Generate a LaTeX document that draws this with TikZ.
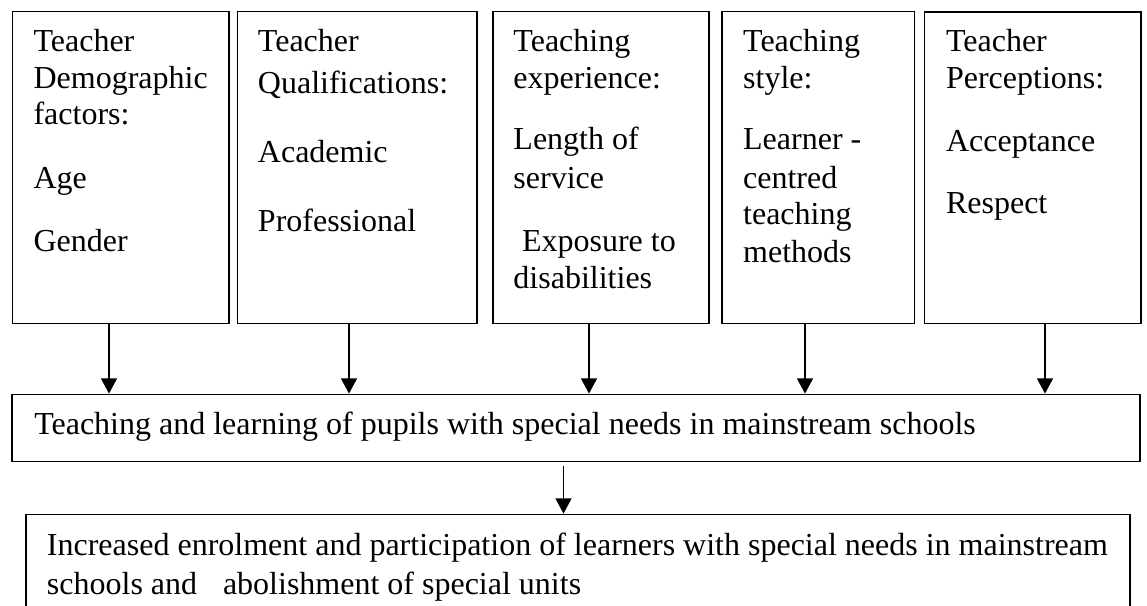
\documentclass[tikz,border=0pt]{standalone}
\usepackage{fontspec}
\setmainfont{Liberation Serif}
\usetikzlibrary{fit,arrows.meta}
\tikzset{
  box/.style={draw, line width=1pt, inner sep=0pt, rectangle},
  arr/.style={line width=1.25pt, -{Triangle[length=11.5pt,width=12pt]}},
  txt/.style={anchor=base west, inner sep=0pt, font=\fontsize{24pt}{27.375pt}\selectfont},
}
\newcommand{\boxtext}[2]{\begin{minipage}[t]{#1}\raggedright\fontsize{24pt}{27.375pt}\selectfont #2\end{minipage}}
\begin{document}
\begin{tikzpicture}[x=0.75pt,y=-0.75pt]
\useasboundingbox (0,0) rectangle (1147,606);
\clip (0,0) rectangle (1147,606);
% top boxes
\node[box, fit={(12.7,11.7) (229,323.3)}] (b1) {};
\node[box, fit={(237.5,11.7) (477,323.3)}] (b2) {};
\node[box, fit={(493,11.7) (709,323.3)}] (b3) {};
\node[box, fit={(722,11.7) (914.5,323.3)}] (b4) {};
\node[box, fit={(924.5,12) (1141,323.3)}] (b5) {};
% middle and bottom boxes
\node[box, fit={(12,394.3) (1140,461.7)}] (mid) {};
\node[box, fit={(26,514.3) (1130,640)}] (bot) {};
% texts
\node[txt] (t1) at (33.3,52) {\boxtext{300pt}{Teacher\\ Demographic\\ factors:\\[19.9pt] Age\\[20.6pt] Gender}};
\node[txt] (t2) at (257.7,51.7) {\boxtext{300pt}{Teacher\\[4.35pt] Qualifications:\\[24.2pt] Academic\\[24.4pt] Professional}};
\node[txt] (t3) at (513.2,51.7) {\boxtext{300pt}{Teaching\\ experience:\\[18.9pt] Length of\\[1.35pt] service\\[20.2pt] \hspace*{6.4pt}Exposure to\\ disabilities}};
\node[txt] (t4) at (742.9,51.7) {\boxtext{300pt}{Teaching\\ style:\\[18.9pt] Learner -\\[1.35pt] centred\\ teaching\\[1.1pt] methods}};
\node[txt] (t5) at (945.8,51.7) {\boxtext{300pt}{Teacher\\ Perceptions:\\[20.2pt] Acceptance\\[18.8pt] Respect}};
\node[txt] (tm) at (34,434) {Teaching and learning of pupils with special needs in mainstream schools};
\node[txt] (tb) at (46.7,555) {\boxtext{1000pt}{Increased enrolment and participation of learners with special needs in mainstream\\[2.6pt] schools and\hspace{13.4pt} abolishment of special units}};
% arrow positions
\coordinate (x1) at (109,0);
\coordinate (x2) at (349,0);
\coordinate (x3) at (589,0);
\coordinate (x4) at (805,0);
\coordinate (x5) at (1045,0);
\coordinate (x6) at (563.5,0);
\draw[arr] (b1.south -| x1) -- (mid.north -| x1);
\draw[arr] (b2.south -| x2) -- (mid.north -| x2);
\draw[arr] (b3.south -| x3) -- (mid.north -| x3);
\draw[arr] (b4.south -| x4) -- (mid.north -| x4);
\draw[arr] (b5.south -| x5) -- (mid.north -| x5);
\draw[arr, shorten <=2.5pt] (mid.south -| x6) -- (bot.north -| x6);
\end{tikzpicture}
\end{document}
